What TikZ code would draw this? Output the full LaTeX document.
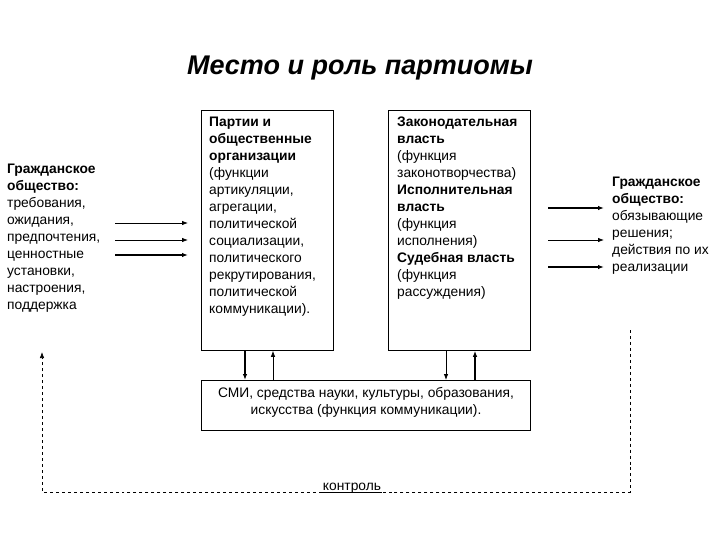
\documentclass[tikz,border=0pt]{standalone}
\usepackage{fontspec}
\setmainfont{Liberation Sans}
\usetikzlibrary{arrows.meta}
\begin{document}
\begin{tikzpicture}[x=1bp,y=-1bp,
  txt/.style={inner sep=0pt,align=left,anchor=north west,font=\fontsize{13.8bp}{17bp}\selectfont},
  box/.style={draw,line width=0.8bp,inner sep=0pt},
  arr/.style={-{Latex[length=6bp,width=4.5bp]},line width=0.8bp},
  arrb/.style={-{Latex[length=6bp,width=4.5bp]},line width=1.4bp}]
\useasboundingbox (0,0) rectangle (720,540);
\node[font=\fontsize{27bp}{30bp}\selectfont\bfseries\itshape] (title) at (360,68) {Место и роль партиомы};
\node[box,minimum width=132bp,minimum height=240bp,anchor=north west] (b1) at (201,110) {};
\node[box,minimum width=142bp,minimum height=240bp,anchor=north west] (b2) at (388,110) {};
\node[box,minimum width=329bp,minimum height=50bp,anchor=north west] (b3) at (201,380) {};
\node[txt] (t1) at (209,117) {\textbf{Партии и}\\\textbf{общественные}\\\textbf{организации}\\(функции\\артикуляции,\\агрегации,\\политической\\социализации,\\политического\\рекрутирования,\\политической\\коммуникации).};
\node[txt] (t2) at (397,117) {\textbf{Законодательная}\\\textbf{власть}\\(функция\\законотворчества)\\\textbf{Исполнительная}\\\textbf{власть}\\(функция\\исполнения)\\\textbf{Судебная власть}\\(функция\\рассуждения)};
\node[txt,align=center,anchor=center] (t3) at (366,402) {СМИ, средства науки, культуры, образования,\\искусства (функция коммуникации).};
\node[txt] (left) at (7,164) {\textbf{Гражданское}\\\textbf{общество:}\\требования,\\ожидания,\\предпочтения,\\ценностные\\установки,\\настроения,\\поддержка};
\node[txt] (right) at (612,177) {\textbf{Гражданское}\\\textbf{общество:}\\обязывающие\\решения;\\действия по их\\реализации};
\coordinate (l1) at (115,223); \coordinate (l1e) at (188,223);
\coordinate (l2) at (115,240); \coordinate (l2e) at (188,240);
\coordinate (l3) at (115,255); \coordinate (l3e) at (188,255);
\draw[arr] (l1) -- (l1e); \draw[arr] (l2) -- (l2e); \draw[arrb] (l3) -- (l3e);
\coordinate (r1) at (548,208); \coordinate (r1e) at (604,208);
\coordinate (r2) at (548,240); \coordinate (r2e) at (604,240);
\coordinate (r3) at (548,267); \coordinate (r3e) at (604,267);
\draw[arrb] (r1) -- (r1e); \draw[arr] (r2) -- (r2e); \draw[arrb] (r3) -- (r3e);
\draw[arrb] (b1.south -| 245,0) -- (b3.north -| 245,0);
\draw[arr] (b3.north -| 273,0) -- (b1.south -| 273,0);
\draw[arr] (b2.south -| 446,0) -- (b3.north -| 446,0);
\draw[arrb] (b3.north -| 475,0) -- (b2.south -| 475,0);
\node[inner sep=1pt,font=\fontsize{13.8bp}{15bp}\selectfont] (k) at (352,488) {контроль};
\coordinate (d0) at (630,330); \coordinate (d1) at (630,492); \coordinate (d2) at (42,492); \coordinate (d3) at (42,352);
\draw[dashed,line width=0.7bp] (d0) -- (d1) -- (k.east |- d1);
\draw[dashed,line width=0.7bp,-{Latex[length=6bp,width=4.5bp]}] (k.west |- d2) -- (d2) -- (d3);
\draw[line width=0.7bp] (k.west |- d2) -- (k.east |- d2);
\end{tikzpicture}
\end{document}
